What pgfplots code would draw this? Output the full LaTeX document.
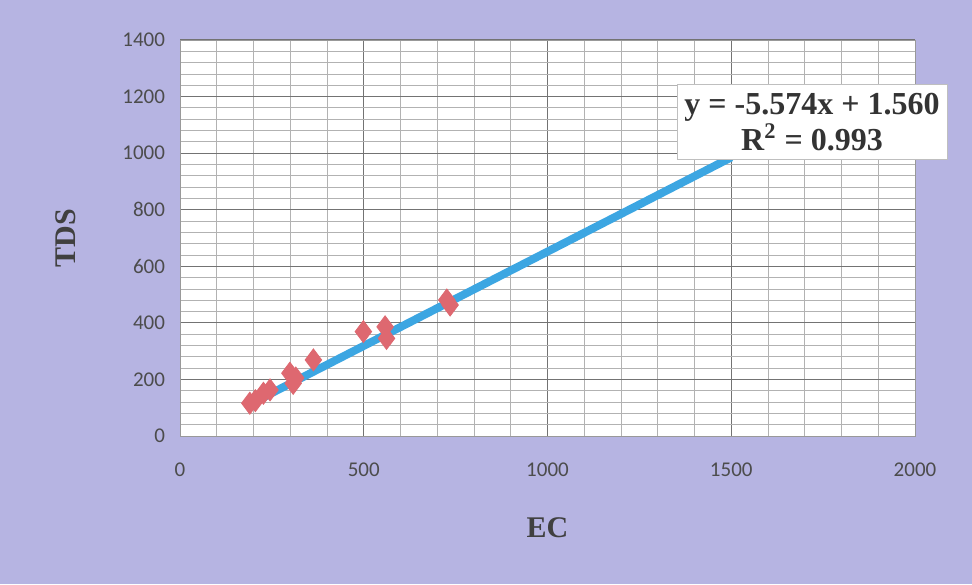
\documentclass[border=0pt]{standalone}
\usepackage{fontspec}
\setmainfont{Liberation Serif}
\newfontfamily\calib{Carlito}
\usepackage{pgfplots}
\pgfplotsset{compat=1.18}
\definecolor{bgl}{RGB}{182,180,226}
\definecolor{ln}{RGB}{60,166,226}
\definecolor{mk}{RGB}{222,104,112}
\begin{document}
\begin{tikzpicture}
\fill[bgl] (0,0) rectangle (486pt,292pt);
\begin{axis}[
  at={(90pt,74pt)}, anchor=south west,
  scale only axis, width=367.5pt, height=198pt,
  xmin=0, xmax=2000, ymin=0, ymax=1400,
  xtick={0,500,1000,1500,2000},
  ytick={0,200,...,1400},
  minor x tick num=4, minor y tick num=4,
  grid=both,
  major grid style={draw=black!55, line width=0.5pt},
  minor grid style={draw=black!30, line width=0.4pt},
  axis background/.style={fill=white},
  axis line style={draw=black!40},
  tick style={draw=none},
  /pgf/number format/assume math mode=true,
  /pgf/number format/set thousands separator={},
  ticklabel style={font=\calib\fontsize{10.5}{12}\selectfont, text=black!70},
  xticklabel style={yshift=-10pt},
  yticklabel style={xshift=-4pt},
  xlabel={\textbf{EC}}, ylabel={\textbf{TDS}},
  label style={font=\fontsize{15}{17}\selectfont, text=black!75},
  xlabel style={at={(axis description cs:0.5,-0.232)}, anchor=center},
  ylabel style={at={(axis description cs:-0.156,0.5)}, anchor=center},
  clip=false,
]
\addplot[only marks, mark=diamond*, mark size=5.5pt, mk, mark options={fill=mk, draw=mk}] coordinates {
(190,116) (205,125) (227,151) (245,163) (299,222) (308,186) (315,205) (363,269)
(499,369) (558,386) (562,345) (726,481) (735,463)
};
\addplot[ln, line width=4pt] coordinates {(190,112) (1500,985)};
\end{axis}
\node[fill=white, draw=black!25, minimum width=135pt, minimum height=37.5pt, align=center, inner sep=2pt,
  font=\bfseries\fontsize{16}{17}\selectfont, text=black!80] at (406pt,231pt)
  {y = -5.574x + 1.560\\R\textsuperscript{2} = 0.993};
\end{tikzpicture}
\end{document}
